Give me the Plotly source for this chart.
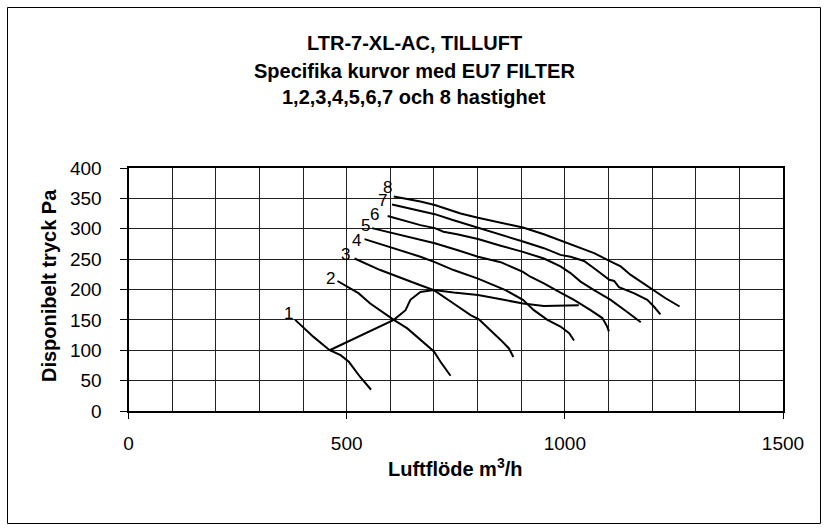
import plotly.graph_objects as go

# ---- data ----
speed_labels = ["1", "2", "3", "4", "5", "6", "7", "8"]
label_x = [367, 463, 497, 522, 544, 564, 581, 594]
label_y = [161, 218, 257, 281, 306, 324, 346, 368]

c1_x = [382, 424, 461, 486, 505, 531, 556]
c1_y = [150, 122, 100, 92, 81, 56, 35]

c2_x = [479, 527, 554, 608, 639, 669, 700, 715, 738]
c2_y = [214, 194, 177, 150, 136, 117, 98, 81, 58]

c3_x = [518, 577, 669, 700, 745, 784, 803, 830, 853, 872, 882]
c3_y = [251, 232, 207, 199, 177, 158, 151, 133, 117, 103, 89]

c4_x = [541, 585, 669, 702, 745, 801, 837, 864, 904, 929, 960, 990, 1010, 1021]
c4_y = [283, 273, 254, 245, 232, 218, 207, 199, 183, 166, 150, 139, 128, 116]

c5_x = [558, 669, 702, 753, 801, 853, 875, 904, 921, 952, 990, 1021, 1059, 1086, 1097, 1101]
c5_y = [301, 281, 276, 265, 254, 245, 238, 229, 221, 210, 195, 183, 166, 153, 139, 131]

c6_x = [594, 669, 702, 722, 753, 801, 853, 904, 952, 990, 1013, 1036, 1067, 1105, 1143, 1174]
c6_y = [321, 306, 301, 295, 291, 283, 272, 262, 251, 238, 227, 213, 199, 183, 163, 146]

c7_x = [604, 669, 702, 745, 801, 853, 904, 952, 990, 1013, 1044, 1067, 1102, 1113, 1124, 1158, 1189, 1204, 1219]
c7_y = [340, 329, 324, 314, 302, 291, 279, 268, 257, 254, 247, 235, 216, 214, 204, 194, 183, 172, 159]

c8_x = [608, 669, 702, 761, 801, 853, 904, 952, 990, 1028, 1067, 1102, 1128, 1151, 1174, 1204, 1230, 1263]
c8_y = [353, 345, 339, 325, 318, 310, 302, 291, 281, 270, 260, 247, 238, 224, 213, 199, 186, 172]

limit_x = [461, 608, 635, 646, 669, 700, 745, 801, 860, 904, 952, 990, 1032]
limit_y = [100, 150, 166, 183, 196, 199, 195, 191, 183, 177, 173, 174, 174]

curves_x = [c1_x, c2_x, c3_x, c4_x, c5_x, c6_x, c7_x, c8_x]
curves_y = [c1_y, c2_y, c3_y, c4_y, c5_y, c6_y, c7_y, c8_y]

title_lines = ["LTR-7-XL-AC, TILLUFT",
               "Specifika kurvor med EU7 FILTER",
               "1,2,3,4,5,6,7 och 8 hastighet"]
x_title = "Luftflöde m<sup>3</sup>/h"
y_title = "Disponibelt tryck Pa"

FONT = "Liberation Sans, Arial, sans-serif"
W, H = 828, 531

fig = go.Figure()
for cx, cy in zip(curves_x, curves_y):
    fig.add_trace(go.Scatter(x=cx, y=cy, mode="lines",
                             line=dict(color="black", width=2),
                             hoverinfo="skip", showlegend=False))
fig.add_trace(go.Scatter(x=limit_x, y=limit_y, mode="lines",
                         line=dict(color="black", width=2),
                         hoverinfo="skip", showlegend=False))

annotations = []
for lab, lx, ly in zip(speed_labels, label_x, label_y):
    annotations.append(dict(x=lx, y=ly, xref="x", yref="y", text=lab,
                            showarrow=False, xanchor="center", yanchor="middle",
                            borderpad=0,
                            font=dict(family=FONT, size=17, color="black")))

title_y_px = [43, 71, 97]
for t, py in zip(title_lines, title_y_px):
    annotations.append(dict(x=414 / W, y=1 - py / H, xref="paper", yref="paper",
                            text="<b>" + t + "</b>", showarrow=False,
                            xanchor="center", yanchor="middle",
                            font=dict(family=FONT, size=20, color="black")))

annotations.append(dict(x=455 / W, y=1 - 467 / H, xref="paper", yref="paper",
                        text="<b>" + x_title + "</b>", showarrow=False,
                        xanchor="center", yanchor="middle",
                        font=dict(family=FONT, size=20, color="black")))
annotations.append(dict(x=49 / W, y=1 - 286 / H, xref="paper", yref="paper",
                        text="<b>" + y_title + "</b>", showarrow=False,
                        textangle=-90, xanchor="center", yanchor="middle",
                        font=dict(family=FONT, size=20, color="black")))

fig.update_layout(
    width=W, height=H,
    margin=dict(l=0, r=0, t=0, b=0, pad=0),
    paper_bgcolor="white", plot_bgcolor="white",
    font=dict(family=FONT, size=19, color="black"),
    annotations=annotations,
    shapes=[dict(type="rect", xref="paper", yref="paper",
                 x0=7.5 / W, x1=820.5 / W, y0=1 - 523.5 / H, y1=1 - 7.5 / H,
                 line=dict(color="black", width=1))],
    xaxis=dict(range=[0, 1500], domain=[128.5 / W, 783 / W], automargin=False,
               tickvals=[0, 500, 1000, 1500], ticks="outside", ticklen=6,
               tickcolor="black", tickwidth=1,
               showgrid=True, gridcolor="#222", gridwidth=1,
               minor=dict(dtick=100, showgrid=True, gridcolor="#222", gridwidth=1, ticks=""),
               showline=True, linecolor="black", linewidth=2, mirror=True,
               zeroline=False, ticklabelstandoff=8,
               tickfont=dict(family=FONT, size=19, color="black")),
    yaxis=dict(range=[0, 400], domain=[1 - 411 / H, 1 - 168 / H], automargin=False,
               dtick=50, ticks="outside", ticklen=7,
               tickcolor="black", tickwidth=1,
               showgrid=True, gridcolor="#222", gridwidth=1,
               showline=True, linecolor="black", linewidth=2, mirror=True,
               zeroline=False, ticklabelstandoff=14,
               tickfont=dict(family=FONT, size=19, color="black")),
)

fig.write_html("out.html",
               config={"displayModeBar": False, "staticPlot": True},
               post_script="document.body.style.margin='0';document.body.style.padding='0';")
